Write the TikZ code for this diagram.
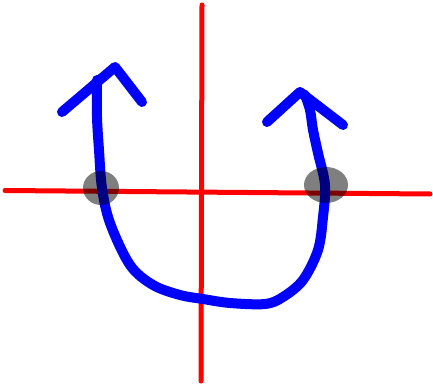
\documentclass[tikz,border=0pt]{standalone}
\begin{document}
\begin{tikzpicture}[x=1pt,y=-1pt,
  axis/.style={draw=red, line width=5pt, line cap=round},
  stroke/.style={draw=blue, line width=10pt, line cap=round, line join=round},
  spot/.style={fill=black, opacity=0.5}]
\path[use as bounding box] (0,0) rectangle (433,385);
% axes
\draw[axis] (5,190.5) -- (430,194);
\draw[axis] (202,5) -- (201,381);
% U-shaped curve
\draw[stroke] plot[smooth, tension=0.55] coordinates {
  (97,80) (97,117) (99,150) (102,188) (110,223) (130,265) (153,285)
  (180,295) (203,299) (230,303) (265,304) (283,297) (303,280)
  (318,250) (323,217) (325,185) (318,153) (313,130) (310,110) (305,95)};
% left arrowhead
\draw[stroke] (62,112) -- (115,67) -- (142,102);
% right arrowhead
\draw[stroke] (267,122) -- (300,92) -- (343,125);
% grey spots
\fill[spot] (101,188) ellipse [x radius=18, y radius=17];
\fill[spot] (326,185) ellipse [x radius=22, y radius=18];
\end{tikzpicture}
\end{document}
